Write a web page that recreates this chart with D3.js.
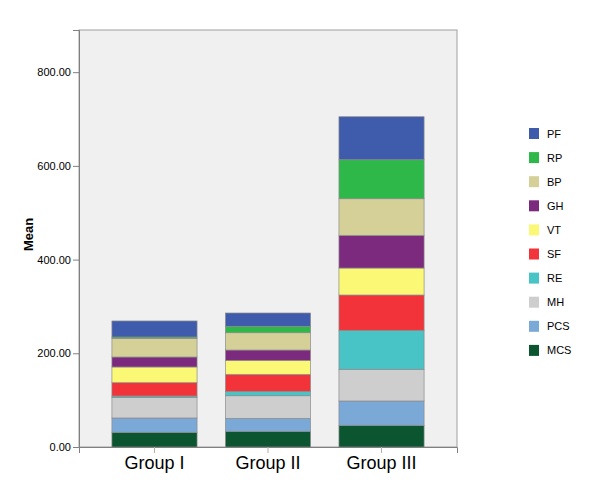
<!DOCTYPE html>
<html>
<head>
<meta charset="utf-8">
<script src="https://cdn.jsdelivr.net/npm/d3@7"></script>
<style>
  html, body { margin: 0; padding: 0; background: #fff; }
  svg { display: block; }
</style>
</head>
<body>
<div id="chart"></div>
<script>
(function () {
  // data (bottom to top of each stack)
  const groups = ["Group I", "Group II", "Group III"];
  const seriesNames = ["MCS", "PCS", "MH", "RE", "SF", "VT", "GH", "BP", "RP", "PF"];
  const MCS = [31.4, 33.5, 46.3];
  const PCS = [30.5, 27.7, 51.9];
  const MH  = [44.2, 48.2, 67.7];
  const RE  = [2.8, 9.4, 83.2];
  const SF  = [28.4, 36.3, 75.3];
  const VT  = [33.5, 29.9, 57.6];
  const GH  = [21.3, 22.0, 69.8];
  const BP  = [39.9, 36.9, 78.1];
  const RP  = [2.8, 13.7, 83.2];
  const PF  = [34.2, 28.4, 91.8];
  const yTicks = [0, 200, 400, 600, 800];

  const seriesValues = { MCS, PCS, MH, RE, SF, VT, GH, BP, RP, PF };

  const COLORS = {
    MCS: "#0b5630",
    PCS: "#7aa8d7",
    MH:  "#cecece",
    RE:  "#48c3c6",
    SF:  "#f2333a",
    VT:  "#fbf876",
    GH:  "#7b2a7d",
    BP:  "#d4d097",
    RP:  "#2eb84a",
    PF:  "#3f5bab"
  };

  const FONT = '"Liberation Sans", Arial, sans-serif';
  const W = 600, H = 495;
  const PLOT = { left: 79, right: 457, top: 30, bottom: 447 };

  const rows = groups.map((g, i) => {
    const r = { group: g };
    seriesNames.forEach(s => { r[s] = seriesValues[s][i]; });
    return r;
  });

  const stacked = d3.stack().keys(seriesNames)(rows);

  const x = d3.scaleBand()
    .domain(groups)
    .range([PLOT.left, PLOT.right])
    .paddingInner(0.25)
    .paddingOuter(0.29);

  const y = d3.scaleLinear()
    .domain([0, 890])
    .range([PLOT.bottom, PLOT.top]);

  const svg = d3.select("#chart")
    .append("svg")
    .attr("width", W)
    .attr("height", H)
    .style("font-family", FONT);

  // plot background
  svg.append("rect")
    .attr("x", PLOT.left)
    .attr("y", PLOT.top)
    .attr("width", PLOT.right - PLOT.left)
    .attr("height", PLOT.bottom - PLOT.top)
    .attr("fill", "#f0f0f0")
    .attr("stroke", "#a0a0a0")
    .attr("stroke-width", 1);

  // bars
  svg.append("g")
    .selectAll("g")
    .data(stacked)
    .join("g")
    .attr("fill", d => COLORS[d.key])
    .selectAll("rect")
    .data(d => d)
    .join("rect")
    .attr("x", d => x(d.data.group))
    .attr("y", d => y(d[1]))
    .attr("width", x.bandwidth())
    .attr("height", d => y(d[0]) - y(d[1]))
    .attr("stroke", "#8c8c8c")
    .attr("stroke-width", 0.7);

  // y axis
  const yAxis = d3.axisLeft(y)
    .tickValues(yTicks)
    .tickSize(6)
    .tickPadding(2)
    .tickFormat(d3.format(".2f"));

  const gy = svg.append("g")
    .attr("transform", `translate(${PLOT.left},0)`)
    .call(yAxis);
  gy.select(".domain").attr("stroke", "#808080");
  gy.selectAll(".tick line").attr("stroke", "#808080");
  gy.selectAll(".tick text")
    .attr("fill", "#000")
    .style("font-family", FONT)
    .style("font-size", "11px");

  // x axis
  const xAxis = d3.axisBottom(x).tickSize(6).tickPadding(3);
  const gx = svg.append("g")
    .attr("transform", `translate(0,${PLOT.bottom})`)
    .call(xAxis);
  gx.select(".domain").attr("stroke", "#808080");
  gx.selectAll(".tick line").attr("stroke", "#b0b0b0");
  gx.selectAll(".tick text")
    .attr("fill", "#000")
    .style("font-family", FONT)
    .style("font-size", "18px");

  // y label
  svg.append("text")
    .attr("transform", `translate(33,${(PLOT.top + PLOT.bottom) / 2 - 4}) rotate(-90)`)
    .attr("text-anchor", "middle")
    .attr("font-size", 13)
    .attr("font-weight", 700)
    .attr("fill", "#000")
    .text("Mean");

  // legend (top-down: PF first)
  const legendOrder = seriesNames.slice().reverse();
  const legend = svg.append("g")
    .selectAll("g")
    .data(legendOrder)
    .join("g")
    .attr("transform", (d, i) => `translate(529,${128 + i * 24.1})`);

  legend.append("rect")
    .attr("width", 10)
    .attr("height", 11)
    .attr("fill", d => COLORS[d]);

  legend.append("text")
    .attr("x", 18)
    .attr("y", 9.5)
    .attr("font-size", 11)
    .attr("fill", "#000")
    .text(d => d);
})();
</script>
</body>
</html>
